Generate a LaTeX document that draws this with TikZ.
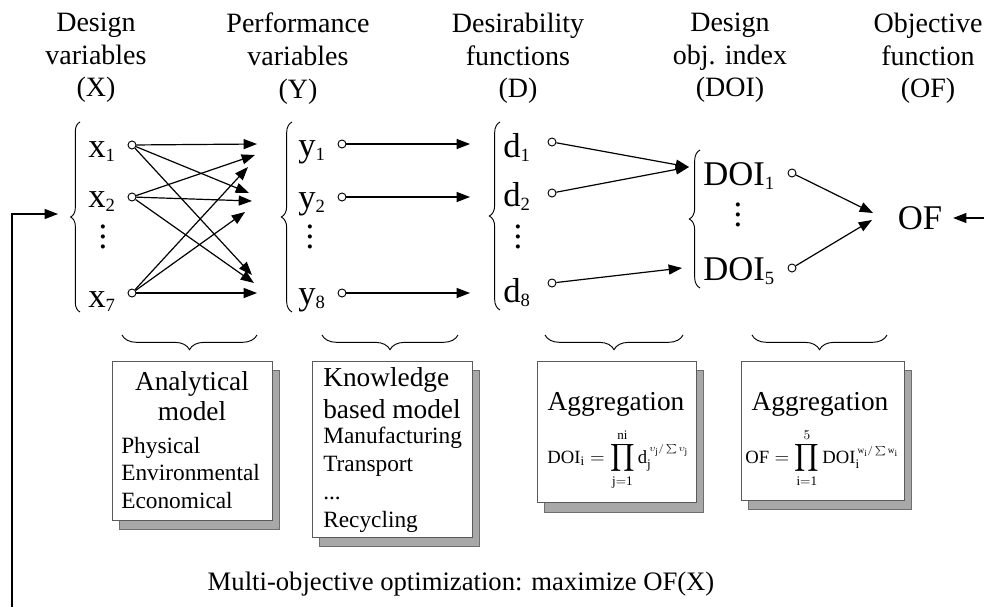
\documentclass[tikz,border=0pt]{standalone}
\usepackage{amsmath}
\usepackage{fontspec}
\setmainfont{Liberation Serif}
\usetikzlibrary{arrows.meta,positioning,decorations.pathreplacing,shadows}
\definecolor{mdframe}{HTML}{5A5A5A}
\definecolor{mdshade}{HTML}{A8A8A8}
\definecolor{mdshadeline}{HTML}{6E6E6E}
\newcommand{\idx}[1]{\raisebox{-0.3ex}{\fontsize{14}{14}\selectfont #1}}
\newcommand{\colvdots}{\vbox{\baselineskip=7.5pt \lineskiplimit=0pt \hbox{.}\hbox{.}\hbox{.}}}
\tikzset{
  mdhead/.style={align=center, inner sep=0pt, anchor=north, font=\fontsize{21}{24.4}\selectfont},
  mdvar/.style={anchor=base west, inner sep=0pt, font=\fontsize{26}{30}\selectfont},
  mddots/.style={inner sep=0pt, anchor=center, font=\fontsize{26}{30}\selectfont},
  mdport/.style={circle, draw, fill=white, line width=0.7pt, inner sep=0pt, minimum size=6pt},
  mdarrow/.style={-{Triangle[length=10pt,width=7.5pt]}, line width=0.9pt},
  mdbrace/.style={decorate, decoration={brace, amplitude=#1}, line width=0.7pt},
  mdbox/.style={draw=mdframe, line width=0.7pt, fill=white, anchor=north west, inner sep=0pt,
    drop shadow={shadow xshift=5.5pt, shadow yshift=-7pt, fill=mdshade, draw=mdshadeline, opacity=1}},
  mdtitle/.style={inner sep=0pt, font=\fontsize{20.5}{22.5}\selectfont},
  mditem/.style={inner sep=0pt, anchor=north west, align=left, font=\fontsize{17.5}{20.5}\selectfont},
  mdform/.style={inner sep=0pt, anchor=base, font=\fontsize{14}{16}\selectfont}
}

\begin{document}
\begin{tikzpicture}[x=0.75pt, y=-0.75pt]
\useasboundingbox (0,0) rectangle (984,607);

% column headings
\node[mdhead] (hx) at (96,13) {Design\\variables\\(X)};
\node[mdhead] (hy) at (298,13) {Performance\\variables\\(Y)};
\node[mdhead] (hd) at (518,13) {Desirability\\functions\\(D)};
\node[mdhead] (hdoi) at (730,13) {Design\\obj. index\\(DOI)};
\node[mdhead] (hof) at (928,13) {Objective\\function\\(OF)};

% design variables
\node[mdvar] (x1) at (88,157) {x\idx{1}};
\node[mdvar] (x2) at (88,207) {x\idx{2}};
\node[mdvar] (x7) at (88,307) {x\idx{7}};
\node[mddots] (xdots) at (103,237) {\colvdots};
\node[mdport] (px1) at (132,145) {};
\node[mdport] (px2) at (132,197) {};
\node[mdport] (px7) at (132,293) {};
\draw[mdbrace=7pt] (80,312) -- (80,122);

% performance variables
\node[mdvar] (y1) at (298,156) {y\idx{1}};
\node[mdvar] (y2) at (298,208) {y\idx{2}};
\node[mdvar] (y8) at (298,304) {y\idx{8}};
\node[mddots] (ydots) at (310,237) {\colvdots};
\node[mdport] (py1) at (342,144) {};
\node[mdport] (py2) at (342,197) {};
\node[mdport] (py8) at (342,293) {};
\draw[mdbrace=8pt] (292,312) -- (292,122);

% desirability functions
\node[mdvar] (d1) at (503,157) {d\idx{1}};
\node[mdvar] (d2) at (503,206) {d\idx{2}};
\node[mdvar] (d8) at (503,302) {d\idx{8}};
\node[mddots] (ddots) at (518,237) {\colvdots};
\node[mdport] (pd1) at (552,142) {};
\node[mdport] (pd2) at (552,193) {};
\node[mdport] (pd8) at (552,283) {};
\draw[mdbrace=8pt] (500,310) -- (500,122);

% design objective index
\node[mdvar] (doi1) at (703,185) {DOI\idx{1}};
\node[mdvar] (doi5) at (703,280) {DOI\idx{5}};
\node[mddots] (doidots) at (738,215) {\colvdots};
\node[mdport] (pdoi1) at (792,173) {};
\node[mdport] (pdoi5) at (792,268) {};
\draw[mdbrace=8pt] (700,288) -- (700,150);

% objective function
\node[font=\fontsize{26}{30}\selectfont, inner sep=8pt] (of) at (920,218) {OF};

% arrow ends
\coordinate (tx1a) at (257,144);
\coordinate (tx1b) at (249,193);
\coordinate (tx1c) at (252,275);
\coordinate (tx2a) at (255,155);
\coordinate (tx2b) at (252,201);
\coordinate (tx2c) at (254,283);
\coordinate (tx7a) at (248,167);
\coordinate (tx7b) at (245,212);
\coordinate (tx7c) at (257,293);
\coordinate (ty1) at (470,144);
\coordinate (ty2) at (470,197);
\coordinate (ty8) at (470,293);
\coordinate (tdoi1) at (689,167);
\coordinate (tdoi5) at (682,268);
\coordinate (tof1) at (873,213);
\coordinate (tof5) at (872,220);
\coordinate (redge) at (984,218);
\coordinate (fbstart) at (12,607);
\coordinate (xin) at (58,214);

\draw[mdarrow] (px1) -- (tx1a);
\draw[mdarrow] (px1) -- (tx1b);
\draw[mdarrow] (px1) -- (tx1c);
\draw[mdarrow] (px2) -- (tx2a);
\draw[mdarrow] (px2) -- (tx2b);
\draw[mdarrow] (px2) -- (tx2c);
\draw[mdarrow] (px7) -- (tx7a);
\draw[mdarrow] (px7) -- (tx7b);
\draw[mdarrow] (px7) -- (tx7c);
\draw[mdarrow] (py1) -- (ty1);
\draw[mdarrow] (py2) -- (ty2);
\draw[mdarrow] (py8) -- (ty8);
\draw[mdarrow] (pd1) -- (tdoi1);
\draw[mdarrow] (pd2) -- (tdoi1);
\draw[mdarrow] (pd8) -- (tdoi5);
\draw[mdarrow] (pdoi1) -- (tof1);
\draw[mdarrow] (pdoi5) -- (tof5);
\draw[mdarrow] (redge) -- (of);
\draw[mdarrow] (fbstart) |- (xin);

% model boxes
\node[mdbox, minimum width=120pt, minimum height=119pt] (anbox) at (112,361) {};
\node[mdtitle, anchor=north, align=center] (antitle) at (192,371) {Analytical\\model};
\node[mditem] (anlist) at (121,437) {Physical\\Environmental\\Economical};
\draw[mdbrace=11pt] (257,335) -- (122,335);

\node[mdbox, minimum width=120pt, minimum height=132pt] (kbbox) at (312,361) {};
\node[mdtitle, anchor=north west, align=left, font=\fontsize{20.5}{24}\selectfont] (kbtitle) at (323,367) {Knowledge\\based model};
\node[mditem, font=\fontsize{17.5}{21}\selectfont] (kblist) at (323,427) {Manufacturing\\Transport\\...\\Recycling};
\draw[mdbrace=11pt] (458,335) -- (322,335);

\node[mdbox, minimum width=119pt, minimum height=106pt] (agbox) at (537,361) {};
\node[mdtitle, anchor=base] (agtitle) at (616,410) {Aggregation};
\node[mdform] (agform) at (618,463)
  {$\displaystyle\mathrm{DOI}_\mathrm{i}=\prod_{\mathrm{j=1}}^{\mathrm{ni}}\mathrm{d}_\mathrm{j}^{\,\scriptscriptstyle\upsilon_\mathrm{j}/\sum\upsilon_\mathrm{j}}$};
\draw[mdbrace=11pt] (683,335) -- (545,335);

\node[mdbox, minimum width=122pt, minimum height=104pt] (ofbox) at (741,361) {};
\node[mdtitle, anchor=base] (oftitle) at (820,410) {Aggregation};
\node[mdform] (ofform) at (822,463)
  {$\displaystyle\mathrm{OF}=\prod_{\mathrm{i=1}}^{5}\mathrm{DOI}_\mathrm{i}^{\,\scriptscriptstyle\mathrm{w_i}/\sum\mathrm{w_i}}$};
\draw[mdbrace=11pt] (887,335) -- (752,335);

% optimisation loop
\node[inner sep=0pt, anchor=base, font=\fontsize{20}{24}\selectfont] (goal) at (461,590) {Multi-objective optimization: maximize OF(X)};
\end{tikzpicture}
\end{document}
